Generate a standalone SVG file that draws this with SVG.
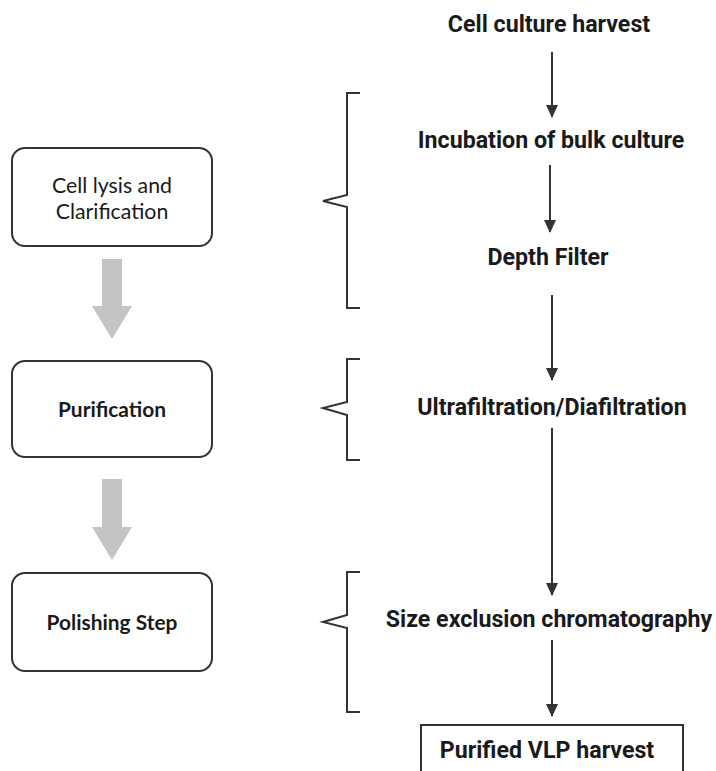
<svg xmlns="http://www.w3.org/2000/svg" width="716" height="771" viewBox="0 0 716 771">
<defs>
<style>
.rt{font-family:Roboto,"Liberation Sans",sans-serif;font-weight:bold;fill:#1a1a1a;text-anchor:middle;font-size:23.2px}
.lt{font-family:Lato,"Noto Sans",sans-serif;fill:#1a1a1a;text-anchor:middle}
.box{fill:#fff;stroke:#333;stroke-width:2}
.con{stroke:#333;stroke-width:2;fill:none}
.br{stroke:#333;stroke-width:2;fill:none;stroke-linejoin:miter}
.big{fill:#c4c4c4}
</style>
<marker id="ahd" markerUnits="userSpaceOnUse" markerWidth="13" markerHeight="12" refX="12" refY="6" orient="auto" viewBox="0 0 13 12">
<path d="M0,0 L13,6 L0,12 Z" fill="#333"/>
</marker>
</defs>
<rect width="716" height="771" fill="#fff"/>

<g id="connectors">
<line class="con" x1="552" y1="52" x2="552" y2="117" marker-end="url(#ahd)"/>
<line class="con" x1="550" y1="165" x2="550" y2="232" marker-end="url(#ahd)"/>
<line class="con" x1="552" y1="295" x2="552" y2="380" marker-end="url(#ahd)"/>
<line class="con" x1="552" y1="428" x2="552" y2="595" marker-end="url(#ahd)"/>
<line class="con" x1="552" y1="640" x2="552" y2="716" marker-end="url(#ahd)"/>
<path class="big" d="M102,259 H122 V306 H132 L112,339 L92,306 H102 Z"/>
<path class="big" d="M102,479 H122 V527 H132 L112,560 L92,527 H102 Z"/>
</g>

<g id="brackets">
<path class="br" d="M360,93 H347 V195 L323,201 L347,207 V308 H360"/>
<path class="br" d="M360,359 H347 V402 L323,408 L347,415 V460 H360"/>
<path class="br" d="M360,572 H347 V615 L323,622 L347,628 V712 H360"/>
</g>

<g id="n1"><text class="rt" x="549" y="32">Cell culture harvest</text></g>
<g id="n2"><text class="rt" x="551" y="148">Incubation of bulk culture</text></g>
<g id="n3"><text class="rt" x="548" y="265">Depth Filter</text></g>
<g id="n4"><text class="rt" x="552" y="415">Ultrafiltration/Diafiltration</text></g>
<g id="n5"><text class="rt" x="549" y="627">Size exclusion chromatography</text></g>
<g id="n6"><rect class="box" x="421" y="725" width="262" height="60"/><text class="rt" x="547" y="758">Purified VLP harvest</text></g>

<g id="s1"><rect class="box" x="12" y="148" width="200" height="98" rx="13"/><text class="lt" x="112" y="193" font-size="21.3">Cell lysis and</text><text class="lt" x="112" y="219" font-size="21.3">Clarification</text></g>
<g id="s2"><rect class="box" x="12" y="361" width="200" height="96" rx="13"/><text class="lt" x="112" y="417" font-weight="bold" font-size="20.9">Purification</text></g>
<g id="s3"><rect class="box" x="12" y="573" width="200" height="98" rx="13"/><text class="lt" x="112" y="630" font-weight="bold" font-size="20.9">Polishing Step</text></g>
</svg>
